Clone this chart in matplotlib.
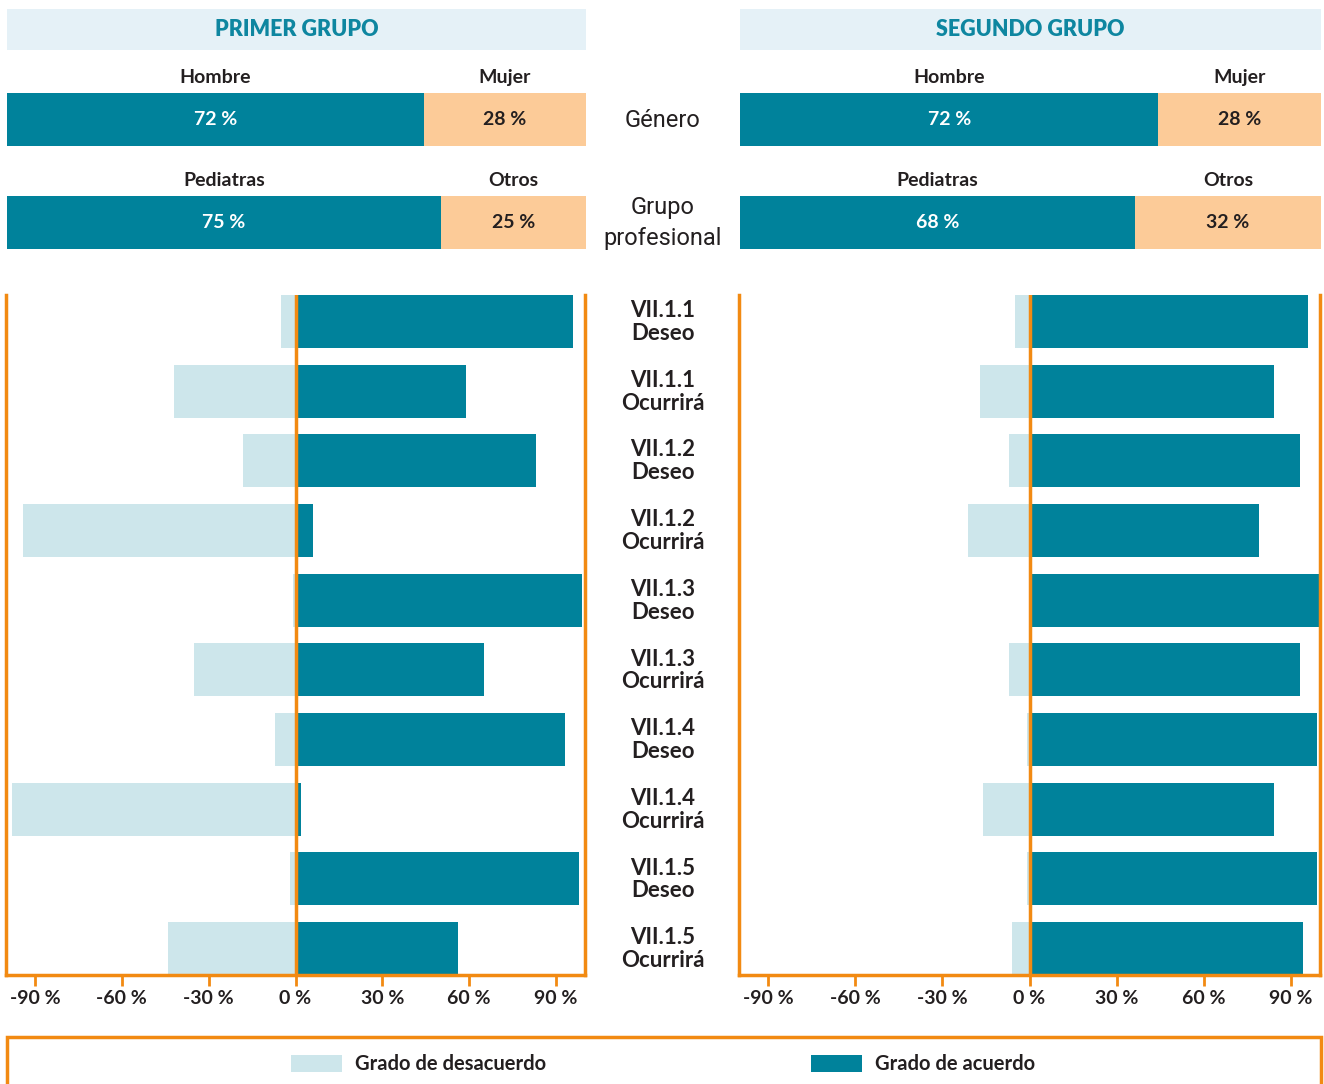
import matplotlib
matplotlib.use('Agg')
import matplotlib.pyplot as plt
from matplotlib.patches import Rectangle

# grupos y categorias
grupos = ['PRIMER GRUPO', 'SEGUNDO GRUPO']
genero_labels = ['Hombre', 'Mujer']
profesion_labels = ['Pediatras', 'Otros']
genero_g1 = [72, 28]
profesion_g1 = [75, 25]
genero_g2 = [72, 28]
profesion_g2 = [68, 32]

categorias = ['VII.1.1\nDeseo', 'VII.1.1\nOcurrirá', 'VII.1.2\nDeseo', 'VII.1.2\nOcurrirá',
              'VII.1.3\nDeseo', 'VII.1.3\nOcurrirá', 'VII.1.4\nDeseo', 'VII.1.4\nOcurrirá',
              'VII.1.5\nDeseo', 'VII.1.5\nOcurrirá']
g1_desacuerdo = [-5, -42, -18, -94, -1, -35, -7, -98, -2, -44]
g1_acuerdo = [96, 59, 83, 6, 99, 65, 93, 2, 98, 56]
g2_desacuerdo = [-5, -17, -7, -21, 0, -7, -1, -16, -1, -6]
g2_acuerdo = [96, 84, 93, 79, 100, 93, 99, 84, 99, 94]
ticks = [-90, -60, -30, 0, 30, 60, 90]

TEAL = '#00829b'
LIGHT = '#cde6eb'
PEACH = '#fccb98'
ORANGE = '#f28a12'
HEADER_BG = '#e5f1f7'
DARK = '#231f20'

plt.rcParams['font.family'] = ['Lato', 'DejaVu Sans']

W, H = 1324, 1084
fig = plt.figure(figsize=(W / 100, H / 100), dpi=100)


def axes_px(x0, y0, x1, y1):
    return fig.add_axes([x0 / W, 1 - y1 / H, (x1 - x0) / W, (y1 - y0) / H])


def rect_px(x0, y0, x1, y1, **kw):
    fig.add_artist(Rectangle((x0 / W, 1 - y1 / H), (x1 - x0) / W, (y1 - y0) / H,
                             transform=fig.transFigure, **kw))


def fig_text(x, y, s, **kw):
    fig.text(x / W, 1 - y / H, s, ha='center', va='center', **kw)


def draw_perfil(x0, x1, titulo, genero, profesion):
    rect_px(x0, 9, x1, 50, facecolor=HEADER_BG, edgecolor='none')
    fig_text((x0 + x1) / 2, 29, titulo, color='#0e86a0', fontsize=15.5, fontweight='heavy')
    ax = axes_px(x0, 60, x1, 250)
    ax.set_xlim(0, 100)
    ax.set_ylim(1.267, -0.578)
    ax.axis('off')
    for i, (vals, labels) in enumerate([(genero, genero_labels), (profesion, profesion_labels)]):
        left = 0
        for v, lab, col, tcol in zip(vals, labels, [TEAL, PEACH], ['white', DARK]):
            ax.barh(i, v, left=left, height=0.515, color=col)
            ax.text(left + v / 2, i, f'{v} %', ha='center', va='center',
                    color=tcol, fontsize=14, fontweight='bold')
            ax.text(left + v / 2, i - 0.41, lab, ha='center', va='center',
                    color=DARK, fontsize=14, fontweight='bold')
            left += v


def draw_divergente(x0, x1, desacuerdo, acuerdo):
    ax = axes_px(x0, 295, x1, 975)
    y = range(len(categorias))
    ax.barh(y, desacuerdo, height=0.76, color=LIGHT)
    ax.barh(y, acuerdo, height=0.76, color=TEAL)
    ax.axvline(0, color=ORANGE, lw=2.5, zorder=3)
    ax.set_xlim(-100, 100)
    ax.set_ylim(len(categorias) - 1 + 0.38, -0.38)
    ax.set_yticks([])
    ax.set_xticks(ticks)
    ax.set_xticklabels([f'{t} %' for t in ticks], fontsize=14, fontweight='bold', color=DARK)
    ax.tick_params(axis='x', colors=ORANGE, length=8, width=2, labelcolor=DARK, pad=3)
    ax.spines['top'].set_visible(False)
    for s in ['left', 'right', 'bottom']:
        ax.spines[s].set_color(ORANGE)
        ax.spines[s].set_linewidth(2.5)


draw_perfil(7, 586, grupos[0], genero_g1, profesion_g1)
draw_perfil(740, 1321, grupos[1], genero_g2, profesion_g2)
draw_divergente(6, 585, g1_desacuerdo, g1_acuerdo)
draw_divergente(739, 1320, g2_desacuerdo, g2_acuerdo)

# etiquetas centrales
fig_text(663, 120, 'Género', color=DARK, fontsize=17, family=['Roboto', 'DejaVu Sans'])
fig_text(663, 223, 'Grupo\nprofesional', color=DARK, fontsize=17,
         family=['Roboto', 'DejaVu Sans'], linespacing=1.4)
for i, cat in enumerate(categorias):
    fig_text(663, 322 + i * 69.67, cat, color=DARK, fontsize=16, fontweight='bold',
             linespacing=1.1)

# leyenda
rect_px(7, 1037, 1321, 1100, facecolor='none', edgecolor=ORANGE, lw=2.5)
rect_px(291, 1055, 342, 1072, facecolor=LIGHT, edgecolor='none')
rect_px(811, 1055, 862, 1072, facecolor=TEAL, edgecolor='none')
fig.text(355 / W, 1 - 1064 / H, 'Grado de desacuerdo', ha='left', va='center',
         color=DARK, fontsize=14.5, fontweight='bold')
fig.text(875 / W, 1 - 1064 / H, 'Grado de acuerdo', ha='left', va='center',
         color=DARK, fontsize=14.5, fontweight='bold')

fig.savefig('out.png', dpi=100)
